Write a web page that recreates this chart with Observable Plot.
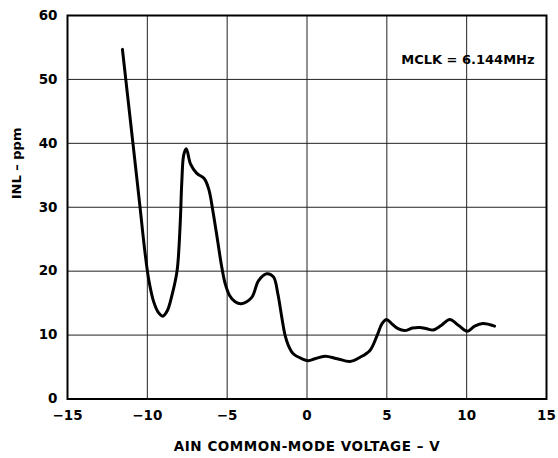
<!DOCTYPE html>
<html>
<head>
<meta charset="utf-8">
<script src="https://cdn.jsdelivr.net/npm/d3@7"></script>
<script src="https://cdn.jsdelivr.net/npm/@observablehq/plot@0.6"></script>
<style>
  html, body { margin: 0; padding: 0; background: #fff; }
  #chart svg { display: block; }
</style>
</head>
<body>
<div id="chart"></div>
<script>
// Curve samples (AIN common-mode voltage in V, INL in ppm)
const voltage = [-11.56, -11.0, -10.5, -10.15, -9.9, -9.6, -9.3, -9.04, -8.75, -8.46, -8.14, -7.95, -7.84, -7.72, -7.56, -7.3, -6.9, -6.44, -6.15, -5.9, -5.6, -5.35, -5.12, -4.85, -4.5, -4.125, -3.46, -3.04, -2.52, -2.1, -1.83, -1.58, -1.375, -1.17, -0.86, -0.33, 0.08, 0.5, 1.125, 1.9, 2.69, 3.3, 3.94, 4.4, 4.7, 4.98, 5.3, 5.7, 6.125, 6.6, 7.06, 7.5, 7.9, 8.4, 8.94, 9.5, 10.04, 10.5, 11.02, 11.75];
const inl     = [54.7, 42.2, 31, 23, 18.5, 15.2, 13.5, 12.96, 13.8, 16.2, 20, 27, 34, 38.2, 39.15, 36.8, 35.3, 34.5, 32.8, 29.5, 24.8, 20.8, 18, 16.2, 15.2, 14.9, 15.9, 18.5, 19.6, 19.1, 16.5, 12.8, 10, 8.4, 7.07, 6.3, 6.0, 6.3, 6.7, 6.3, 5.87, 6.5, 7.6, 10, 11.8, 12.44, 11.8, 11, 10.7, 11.1, 11.2, 11, 10.8, 11.5, 12.44, 11.5, 10.6, 11.4, 11.8, 11.4];

const xTicks = [-15, -10, -5, 0, 5, 10, 15];
const yTicks = [0, 10, 20, 30, 40, 50, 60];
const xLabel = "AIN COMMON-MODE VOLTAGE – V";
const yLabel = "INL – ppm";
const noteText = ["MCLK = 6.144MHz"];
const noteX = [14.25];
const noteY = [53.1];

const data = voltage.map((v, i) => ({v, inl: inl[i]}));
const notes = noteText.map((t, i) => ({t, x: noteX[i], y: noteY[i]}));

const font = "'DejaVu Sans', 'Liberation Sans', Arial, sans-serif";

const chart = Plot.plot({
  width: 558,
  height: 458,
  marginLeft: 67,
  marginTop: 15,
  marginRight: 12,
  marginBottom: 59.5,
  style: { fontFamily: font, fontWeight: "bold", fontSize: "13px", color: "#000", background: "#fff" },
  x: { domain: [-15, 15] },
  y: { domain: [0, 60] },
  marks: [
    Plot.gridX(xTicks, { stroke: "#222", strokeOpacity: 1, strokeWidth: 1 }),
    Plot.gridY(yTicks, { stroke: "#222", strokeOpacity: 1, strokeWidth: 1 }),
    Plot.frame({ stroke: "#000", strokeWidth: 2 }),
    Plot.line(data, { x: "v", y: "inl", curve: "catmull-rom", stroke: "#000", strokeWidth: 3 }),
    Plot.text(notes, { x: "x", y: "y", text: "t", textAnchor: "end", fontSize: 13, fontWeight: "bold", fill: "#000" }),
    Plot.axisX(xTicks, { tickSize: 0, tickPadding: 11, label: null, fontSize: 13.5, fontWeight: "bold" }),
    Plot.axisY(yTicks, { tickSize: 0, tickPadding: 10, label: null, fontSize: 13.5, fontWeight: "bold" }),
    Plot.text([xLabel], { frameAnchor: "bottom", dy: 51.5, fontSize: 13.5, fontWeight: "bold", fill: "#000" }),
    Plot.text([yLabel], { frameAnchor: "left", dx: -51, dy: -8, rotate: -90, fontSize: 13, fontWeight: "bold", fill: "#000" })
  ]
});

chart.querySelectorAll("text").forEach(t => {
  if (t.textContent === xLabel) t.setAttribute("letter-spacing", "0.55");
});
document.getElementById("chart").appendChild(chart);
</script>
</body>
</html>
